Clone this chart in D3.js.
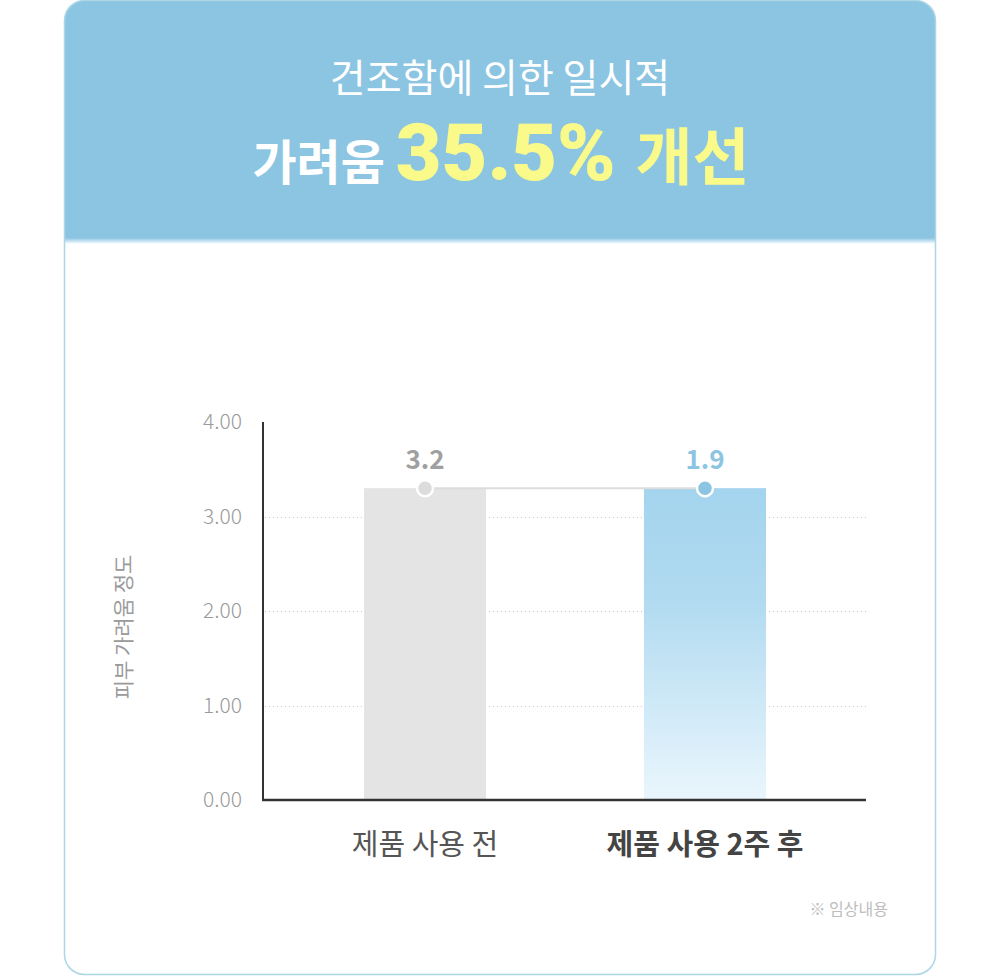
<!DOCTYPE html>
<meta charset="utf-8" />
<style>
  body {
    background: #fff;
    margin: 0px;
  }
  text {
    font-family: "Noto Sans CJK KR", "Noto Sans", sans-serif;
  }
  .grid line {
    stroke: #c8c8c8;
    stroke-width: 1px;
    stroke-dasharray: 1 3;
  }
</style>
<body>
<script src="https://cdn.jsdelivr.net/npm/d3@7"></script>
<script>
  var width = 1000,
    height = 976;

  // chart data
  var categories = ["제품 사용 전", "제품 사용 2주 후"];
  var labels = ["3.2", "1.9"];
  var barHeights = [3.3, 3.3]; // both bars are drawn to the same height in the source
  var yTicks = [0, 1, 2, 3, 4];

  var svg = d3
    .select("body")
    .append("svg")
    .attr("width", width)
    .attr("height", height)
    .style("display", "block");

  var defs = svg.append("defs");

  defs
    .append("clipPath")
    .attr("id", "card")
    .append("rect")
    .attr("x", 64.5)
    .attr("y", 0.5)
    .attr("width", 871)
    .attr("height", 974)
    .attr("rx", 20);

  var grad = defs
    .append("linearGradient")
    .attr("id", "blueBar")
    .attr("x1", 0)
    .attr("y1", 0)
    .attr("x2", 0)
    .attr("y2", 1);
  grad.append("stop").attr("offset", "0%").attr("stop-color", "#a4d4ee");
  grad.append("stop").attr("offset", "35%").attr("stop-color", "#b0daf0");
  grad.append("stop").attr("offset", "100%").attr("stop-color", "#eaf6fd");

  var fade = defs
    .append("linearGradient")
    .attr("id", "fade")
    .attr("x1", 0)
    .attr("y1", 0)
    .attr("x2", 0)
    .attr("y2", 1);
  fade.append("stop").attr("offset", "0%").attr("stop-color", "#8cc5e2");
  fade.append("stop").attr("offset", "100%").attr("stop-color", "#8cc5e2").attr("stop-opacity", 0);

  // card
  var card = svg.append("g").attr("clip-path", "url(#card)");
  card
    .append("rect")
    .attr("x", 64)
    .attr("y", 0)
    .attr("width", 872)
    .attr("height", 976)
    .attr("fill", "#fff");
  card
    .append("rect")
    .attr("x", 64)
    .attr("y", 0)
    .attr("width", 872)
    .attr("height", 238)
    .attr("fill", "#8cc5e2");
  card
    .append("rect")
    .attr("x", 64)
    .attr("y", 238)
    .attr("width", 872)
    .attr("height", 6)
    .attr("fill", "url(#fade)");

  svg
    .append("rect")
    .attr("x", 64.5)
    .attr("y", 0.5)
    .attr("width", 871)
    .attr("height", 974)
    .attr("rx", 20)
    .attr("fill", "none")
    .attr("stroke", "#acd6e6")
    .attr("stroke-width", 1.5);

  // title
  svg
    .append("text")
    .attr("x", 500)
    .attr("y", 92)
    .attr("text-anchor", "middle")
    .attr("fill", "#fff")
    .style("font-size", "39px")
    .style("font-weight", 400)
    .text("건조함에 의한 일시적");

  var t2 = svg
    .append("text")
    .attr("x", 501)
    .attr("y", 180)
    .attr("text-anchor", "middle")
    .style("font-weight", 700);
  t2.append("tspan")
    .attr("fill", "#fff")
    .style("font-size", "48px")
    .text("가려움 ");
  t2.append("tspan")
    .attr("fill", "#fafa8a")
    .style("font-size", "79px")
    .style("font-family", "Roboto, sans-serif")
    .style("font-weight", 900)
    .text("35.5% ");
  t2.append("tspan")
    .attr("fill", "#fafa8a")
    .style("font-size", "62px")
    .text("개선");

  // scales
  var y = d3.scaleLinear().domain([0, 4]).range([800, 422]);
  var x = d3
    .scaleBand()
    .domain(categories)
    .range([285, 845])
    .paddingInner(0.564)
    .paddingOuter(0.282);

  // grid
  svg
    .append("g")
    .attr("class", "grid")
    .selectAll("line")
    .data(yTicks.filter((d) => d > 0 && d < 4))
    .join("line")
    .attr("x1", 265)
    .attr("x2", 868)
    .attr("y1", (d) => Math.round(y(d)) + 0.5)
    .attr("y2", (d) => Math.round(y(d)) + 0.5);

  // y tick labels
  svg
    .append("g")
    .selectAll("text")
    .data(yTicks)
    .join("text")
    .attr("x", 242)
    .attr("y", (d) => y(d))
    .attr("dy", "0.35em")
    .attr("text-anchor", "end")
    .attr("fill", "#9a9a9a")
    .style("font-size", "21px")
    .style("font-weight", 300)
    .text((d) => d3.format(".2f")(d));

  // bars
  svg
    .append("g")
    .selectAll("rect")
    .data(categories)
    .join("rect")
    .attr("x", (d) => x(d))
    .attr("width", x.bandwidth())
    .attr("y", (d, i) => y(barHeights[i]))
    .attr("height", (d, i) => y(0) - y(barHeights[i]))
    .attr("fill", (d, i) => (i == 0 ? "#e4e4e4" : "url(#blueBar)"));

  // axes
  svg
    .append("line")
    .attr("x1", 263)
    .attr("x2", 263)
    .attr("y1", 422)
    .attr("y2", 800)
    .attr("stroke", "#333")
    .attr("stroke-width", 2);
  svg
    .append("line")
    .attr("x1", 262)
    .attr("x2", 866)
    .attr("y1", 800)
    .attr("y2", 800)
    .attr("stroke", "#333")
    .attr("stroke-width", 2.5);

  // connecting line
  var cx = (d) => x(d) + x.bandwidth() / 2;
  svg
    .append("path")
    .datum(categories)
    .attr(
      "d",
      d3
        .line()
        .x((d) => cx(d))
        .y((d, i) => y(barHeights[i]))
    )
    .attr("stroke", "#dcdcdc")
    .attr("stroke-width", 2)
    .attr("fill", "none");

  svg
    .append("g")
    .selectAll("circle")
    .data(categories)
    .join("circle")
    .attr("cx", cx)
    .attr("cy", (d, i) => y(barHeights[i]))
    .attr("r", 8)
    .attr("fill", (d, i) => (i == 0 ? "#dcdcdc" : "#8cc5e2"))
    .attr("stroke", "#fff")
    .attr("stroke-width", 2.5);

  svg
    .append("g")
    .selectAll("text")
    .data(categories)
    .join("text")
    .attr("x", cx)
    .attr("y", (d, i) => y(barHeights[i]) - 19)
    .attr("text-anchor", "middle")
    .attr("fill", (d, i) => (i == 0 ? "#a0a0a0" : "#8cc5e2"))
    .style("font-size", "26px")
    .style("font-weight", 700)
    .text((d, i) => labels[i]);

  // x labels
  svg
    .append("g")
    .selectAll("text")
    .data(categories)
    .join("text")
    .attr("x", cx)
    .attr("y", 855)
    .attr("text-anchor", "middle")
    .attr("fill", (d, i) => (i == 0 ? "#555" : "#444"))
    .style("font-size", "29px")
    .style("font-weight", (d, i) => (i == 0 ? 400 : 700))
    .text((d) => d);

  // y axis title
  svg
    .append("text")
    .attr("transform", "translate(131,627) rotate(-90)")
    .attr("text-anchor", "middle")
    .attr("fill", "#9a9a9a")
    .style("font-size", "21px")
    .text("피부 가려움 정도");

  // footnote
  svg
    .append("text")
    .attr("x", 888)
    .attr("y", 915)
    .attr("text-anchor", "end")
    .attr("fill", "#bdbdbd")
    .style("font-size", "16px")
    .text("※ 임상내용");
</script>
</body>
